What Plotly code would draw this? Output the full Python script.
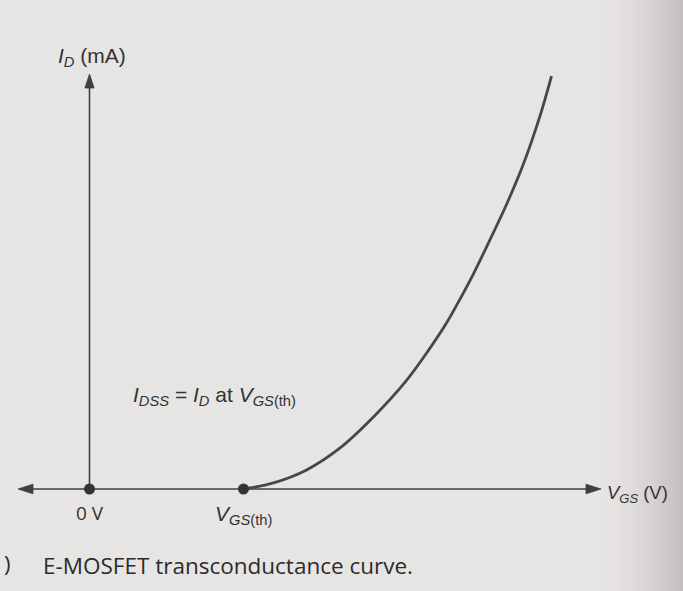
import plotly.graph_objects as go

# E-MOSFET transfer characteristic: drain current vs gate-source voltage
VGS = [2.0, 2.39, 2.82, 3.25, 3.69, 4.12, 4.42, 4.64, 4.81, 4.98, 5.20, 5.42, 5.63, 5.85, 6.0]
ID = [0.0, 0.24, 0.74, 1.58, 2.80, 4.22, 5.45, 6.45, 7.35, 8.30, 9.65, 11.05, 12.55, 14.45, 16.0]
MARK_V = [0.0, 2.0]          # 0 V origin and VGS(th)
MARK_I = [0.0, 0.0]

W, H = 683, 591
PX_PER_V = 77.0
PX_PER_MA = 25.81
ORIGIN_PX = (89.5, 489.0)    # (x from left, y from top)

xr = [-ORIGIN_PX[0] / PX_PER_V, (W - ORIGIN_PX[0]) / PX_PER_V]
yr = [-(H - ORIGIN_PX[1]) / PX_PER_MA, ORIGIN_PX[1] / PX_PER_MA]

INK = "#3f3f3f"
TXT = "#333333"
PAPER = "#e7e5e4"
MATH_FONT = "Liberation Sans"
BODY_FONT = "Open Sans"


def px(x):
    return x / W


def py(y):
    return 1 - y / H


fig = go.Figure()

# transconductance curve
fig.add_trace(go.Scatter(
    x=VGS, y=ID, mode="lines",
    line=dict(color="#474747", width=2.8, shape="spline", smoothing=1.0),
    hoverinfo="skip", showlegend=False,
))
# dots at origin and threshold
fig.add_trace(go.Scatter(
    x=MARK_V, y=MARK_I, mode="markers",
    marker=dict(color="#333333", size=11),
    hoverinfo="skip", showlegend=False,
))

shapes = []

# shaded page edge on the right
steps = 24
x_start, x_end = 596.0, 683.0
c0 = (0xe7, 0xe5, 0xe4)
c1 = (0xc3, 0xbe, 0xbe)
for i in range(steps):
    t = (i + 0.5) / steps
    t = t ** 1.6
    col = tuple(round(a + (b - a) * t) for a, b in zip(c0, c1))
    xa = x_start + (x_end - x_start) * i / steps
    xb = x_start + (x_end - x_start) * (i + 1) / steps + 0.6
    shapes.append(dict(
        type="rect", xref="paper", yref="paper",
        x0=px(xa), x1=px(xb), y0=0, y1=1,
        fillcolor="rgb(%d,%d,%d)" % col, line=dict(width=0), layer="below",
    ))

# horizontal axis
shapes.append(dict(type="line", xref="paper", yref="y",
                   x0=px(26), x1=px(592), y0=0, y1=0,
                   line=dict(color=INK, width=1.6), layer="below"))
# vertical axis
shapes.append(dict(type="line", xref="x", yref="paper",
                   x0=0, x1=0, y0=py(489), y1=py(84),
                   line=dict(color=INK, width=1.6), layer="below"))

# arrowheads (pixel-sized triangles)
arrow_style = dict(type="path", xsizemode="pixel", ysizemode="pixel",
                   fillcolor=INK, line=dict(color=INK, width=0.8))
shapes.append(dict(arrow_style, xref="paper", yref="y",
                   xanchor=px(601), yanchor=0,
                   path="M0,0 L-15,4.8 L-15,-4.8 Z"))
shapes.append(dict(arrow_style, xref="paper", yref="y",
                   xanchor=px(18), yanchor=0,
                   path="M0,0 L15,4.8 L15,-4.8 Z"))
shapes.append(dict(arrow_style, xref="x", yref="paper",
                   xanchor=0, yanchor=py(74),
                   path="M0,0 L-4.6,-14 L4.6,-14 Z"))

annotations = [
    dict(text="<i>I</i><sub><i>D</i></sub> (mA)",
         x=px(56), y=py(57), xanchor="left", yanchor="middle",
         font=dict(family=MATH_FONT, size=21, color=TXT)),
    dict(text="0 V",
         x=0, y=py(513), xref="x", xanchor="center", yanchor="middle",
         font=dict(family=BODY_FONT, size=19, color=TXT)),
    dict(text="<i>V</i><sub><i>GS</i>(th)</sub>",
         x=MARK_V[1], y=py(515), xref="x", xanchor="center", yanchor="middle",
         font=dict(family=MATH_FONT, size=21, color=TXT)),
    dict(text="<i>I</i><sub><i>DSS</i></sub> = <i>I</i><sub><i>D</i></sub> at <i>V</i><sub><i>GS</i>(th)</sub>",
         x=px(131), y=py(396), xanchor="left", yanchor="middle",
         font=dict(family=MATH_FONT, size=21, color=TXT)),
    dict(text="<i>V</i><sub><i>GS</i></sub> (V)",
         x=px(605), y=py(494), xanchor="left", yanchor="middle",
         font=dict(family=MATH_FONT, size=18.5, color=TXT)),
    dict(text="E-MOSFET transconductance curve.",
         x=px(41), y=py(565), xanchor="left", yanchor="middle",
         font=dict(family=BODY_FONT, size=22.5, color="#2b2b2b")),
    dict(text=")",
         x=px(2), y=py(563), xanchor="left", yanchor="middle",
         font=dict(family=BODY_FONT, size=22, color="#2b2b2b")),
]
for a in annotations:
    a.setdefault("xref", "paper")
    a.setdefault("yref", "paper")
    a["showarrow"] = False

fig.update_layout(
    width=W, height=H,
    margin=dict(l=0, r=0, t=0, b=0),
    paper_bgcolor=PAPER, plot_bgcolor="rgba(0,0,0,0)",
    xaxis=dict(range=xr, visible=False, fixedrange=True),
    yaxis=dict(range=yr, visible=False, fixedrange=True),
    shapes=shapes,
    annotations=annotations,
    showlegend=False,
)

fig.write_html("out.html", config={"displayModeBar": False})
